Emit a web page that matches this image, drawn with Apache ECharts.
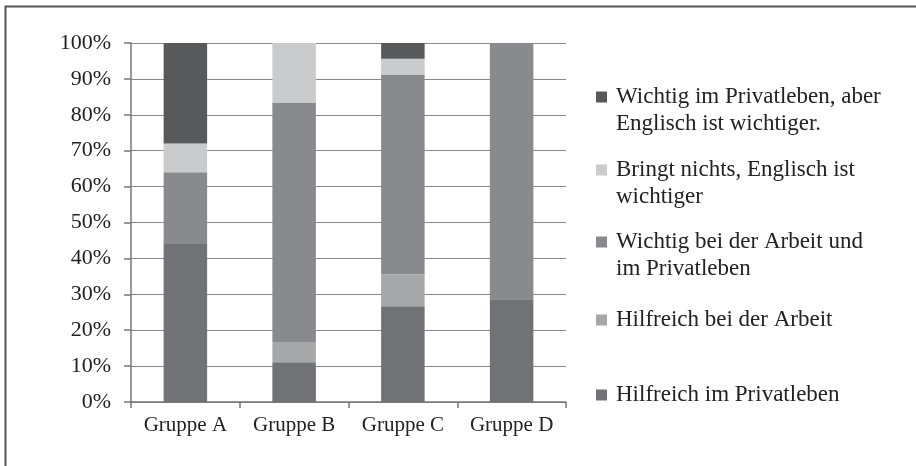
<!DOCTYPE html>
<html>
<head>
<meta charset="utf-8">
<script src="https://cdn.jsdelivr.net/npm/echarts@6/dist/echarts.min.js"></script>
<style>
html,body{margin:0;padding:0;background:#fff;}
#chart{width:916px;height:466px;}
</style>
</head>
<body>
<div id="chart"></div>
<script>
var categories = ['Gruppe A', 'Gruppe B', 'Gruppe C', 'Gruppe D'];
var yTicks = [0, 10, 20, 30, 40, 50, 60, 70, 80, 90, 100];
var seriesNames = [
  'Hilfreich im Privatleben',
  'Hilfreich bei der Arbeit',
  'Wichtig bei der Arbeit und im Privatleben',
  'Bringt nichts, Englisch ist wichtiger',
  'Wichtig im Privatleben, aber Englisch ist wichtiger.'
];
var legendLabels = [
  'Hilfreich im Privatleben',
  'Hilfreich bei der Arbeit',
  'Wichtig bei der Arbeit und\nim Privatleben',
  'Bringt nichts, Englisch ist\nwichtiger',
  'Wichtig im Privatleben, aber\nEnglisch ist wichtiger.'
];
var hilfreichPrivat = [44, 11.1, 26.7, 28.6];
var hilfreichArbeit = [0, 5.6, 8.9, 0];
var wichtigArbeitPrivat = [20, 66.7, 55.6, 71.4];
var bringtNichts = [8, 16.7, 4.4, 0];
var wichtigPrivat = [28, 0, 4.4, 0];

var values = [hilfreichPrivat, hilfreichArbeit, wichtigArbeitPrivat, bringtNichts, wichtigPrivat];
var colors = ['#717276', '#a6a7a9', '#898a8d', '#cacbcd', '#58595b'];
var legendLineCenters = [395, 320, 242, 170, 97];
var font = '"Liberation Serif", "Times New Roman", serif';
var LH = 27, SQ = 11;

var chart = echarts.init(document.getElementById('chart'), null, {renderer: 'canvas'});

var series = seriesNames.map(function (n, i) {
  return {
    name: n,
    type: 'bar',
    stack: 'total',
    barWidth: '40%',
    data: values[i],
    itemStyle: {color: colors[i]},
    emphasis: {disabled: true},
    animation: false
  };
});

var legends = seriesNames.map(function (n, i) {
  var twoLine = legendLabels[i].indexOf('\n') >= 0;
  var h = twoLine ? SQ + LH : SQ;
  var icon = twoLine
    ? 'path://M0,0L' + SQ + ',0L' + SQ + ',' + SQ + 'L0,' + SQ + 'Z M0,' + h
    : 'rect';
  return {
    left: 596,
    top: legendLineCenters[i] - LH / 2,
    padding: 0,
    itemWidth: SQ,
    itemHeight: h,
    icon: icon,
    selectedMode: false,
    data: [n],
    formatter: function () { return legendLabels[i]; },
    textStyle: {
      fontFamily: font,
      fontSize: 23,
      lineHeight: LH,
      color: '#222',
      padding: [0, 0, 0, 4]
    }
  };
});

chart.setOption({
  animation: false,
  color: colors,
  grid: {left: 131, right: 350, top: 43, bottom: 64},
  legend: legends,
  graphic: [
    {type: 'polyline', shape: {points: [[5.5, 466], [5.5, 6.5], [916, 6.5]]},
     style: {stroke: '#555', lineWidth: 2, fill: null}, silent: true}
  ],
  xAxis: {
    type: 'category',
    data: categories,
    axisLine: {lineStyle: {color: '#777', width: 1.5}},
    axisTick: {show: true, length: 6, lineStyle: {color: '#777', width: 1.5}},
    axisLabel: {fontFamily: font, fontSize: 21, color: '#222', margin: 13}
  },
  yAxis: {
    type: 'value',
    min: yTicks[0],
    max: yTicks[yTicks.length - 1],
    interval: 10,
    axisLine: {show: true, lineStyle: {color: '#777', width: 1.5}},
    axisTick: {show: true, length: 7, lineStyle: {color: '#777', width: 1.5}},
    axisLabel: {fontFamily: font, fontSize: 22, color: '#222', margin: 20, formatter: '{value}%'},
    splitLine: {show: true, lineStyle: {color: '#888', width: 1}}
  },
  series: series
});
</script>
</body>
</html>
